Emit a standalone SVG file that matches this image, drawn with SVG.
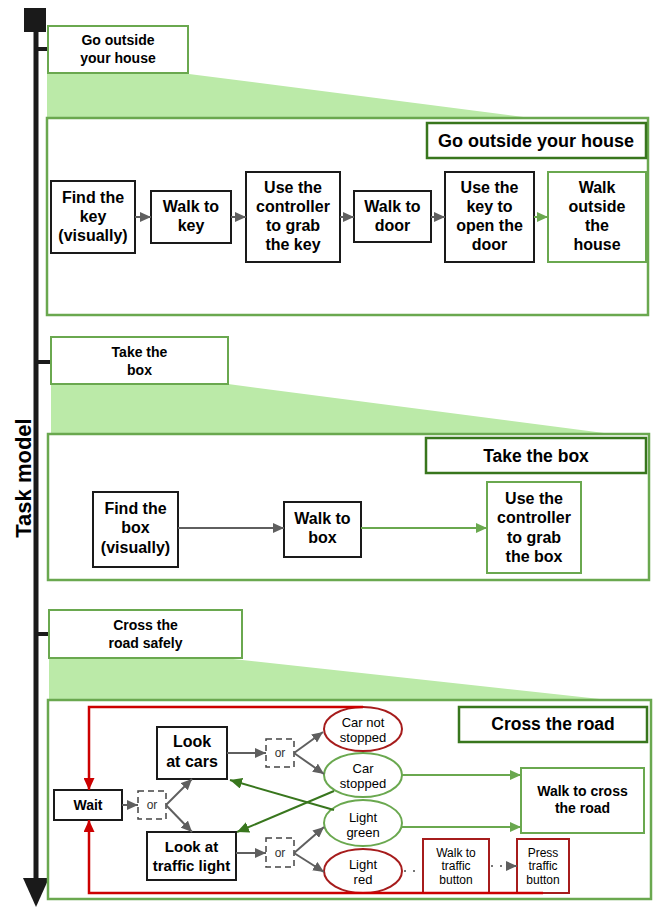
<svg xmlns="http://www.w3.org/2000/svg" width="654" height="907" viewBox="0 0 654 907">
<defs>
<style>
text{font-family:"Liberation Sans",Arial,sans-serif;text-anchor:middle;fill:#000}
.b{font-weight:bold}
.t15{font-size:16px;font-weight:bold}
.hdr{font-size:14px;font-weight:bold}
.ttl{font-size:17.5px;font-weight:bold}
.proc{fill:#fff;stroke:#1a1a1a;stroke-width:2}
.gproc{fill:#fff;stroke:#6aa84f;stroke-width:2}
.rproc{fill:#fff;stroke:#a61c1c;stroke-width:2}
.hbox{fill:#fff;stroke:#6aa84f;stroke-width:2}
.big{fill:#fff;stroke:#6aa84f;stroke-width:2.5}
.tbox{fill:#fff;stroke:#38761d;stroke-width:2.5}
.trap{fill:#bbeaa8;stroke:none}
.or{fill:#fff;stroke:#444;stroke-width:1.5;stroke-dasharray:6,4}
.ortx{font-size:12px;fill:#333}
.el{font-size:13px}
.gray{stroke:#5f5f5f;stroke-width:2;fill:none;marker-end:url(#ag)}
.green{stroke:#6aa84f;stroke-width:2;fill:none;marker-end:url(#agr)}
.dgreen{stroke:#38761d;stroke-width:2;fill:none;marker-end:url(#adg)}
.red{stroke:#cc0000;stroke-width:2.5;fill:none;marker-end:url(#ar)}
.dot{stroke:#777;stroke-width:2;fill:none;stroke-dasharray:2,7}
</style>
<marker id="ag" markerUnits="userSpaceOnUse" markerWidth="11" markerHeight="10" viewBox="0 0 11 10" refX="11" refY="5" orient="auto"><path d="M0,0 L11,5 L0,10 z" fill="#5f5f5f"/></marker>
<marker id="agr" markerUnits="userSpaceOnUse" markerWidth="11" markerHeight="10" viewBox="0 0 11 10" refX="11" refY="5" orient="auto"><path d="M0,0 L11,5 L0,10 z" fill="#6aa84f"/></marker>
<marker id="adg" markerUnits="userSpaceOnUse" markerWidth="12" markerHeight="11" viewBox="0 0 12 11" refX="12" refY="5.5" orient="auto"><path d="M0,0 L12,5.5 L0,11 z" fill="#38761d"/></marker>
<marker id="ar" markerUnits="userSpaceOnUse" markerWidth="12" markerHeight="11" viewBox="0 0 12 11" refX="12" refY="5.5" orient="auto"><path d="M0,0 L12,5.5 L0,11 z" fill="#cc0000"/></marker>
</defs>
<rect width="654" height="907" fill="#fff"/>

<!-- Axis -->
<g id="axis">
<rect x="24" y="8" width="22" height="24" fill="#1a1a1a"/>
<line x1="36" y1="30" x2="36" y2="880" stroke="#1a1a1a" stroke-width="5"/>
<polygon points="23,878 49,878 36,907" fill="#1a1a1a"/>
<rect x="36" y="47" width="13" height="4" fill="#1a1a1a"/>
<rect x="36" y="360" width="15" height="4" fill="#1a1a1a"/>
<rect x="36" y="632" width="13" height="4" fill="#1a1a1a"/>
<text transform="translate(31,478) rotate(-90)" class="b" style="font-size:22px">Task model</text>
</g>

<!-- Section 1 -->
<g id="sec1-header">
<polygon class="trap" points="47,74 189,74 531,118 47,118"/>
<rect class="hbox" x="48" y="26" width="140" height="47"/>
<text class="hdr" x="118" y="45">Go outside</text>
<text class="hdr" x="118" y="63">your house</text>
</g>
<g id="sec1-frame">
<rect class="big" x="47" y="118" width="601" height="197"/>
<rect class="tbox" x="427" y="123" width="219" height="35"/>
<text class="b" style="font-size:18px" x="536" y="147">Go outside your house</text>
</g>
<g id="n-findkey"><rect class="proc" x="51" y="181" width="84" height="72"/>
<text class="t15" x="93" y="203">Find the</text><text class="t15" x="93" y="222">key</text><text class="t15" x="93" y="241">(visually)</text></g>
<g id="n-walkkey"><rect class="proc" x="151" y="191" width="80" height="52"/>
<text class="t15" x="191" y="212">Walk to</text><text class="t15" x="191" y="231">key</text></g>
<g id="n-grabkey"><rect class="proc" x="246" y="172" width="94" height="90"/>
<text class="t15" x="293" y="193">Use the</text><text class="t15" x="293" y="212">controller</text><text class="t15" x="293" y="231">to grab</text><text class="t15" x="293" y="250">the key</text></g>
<g id="n-walkdoor"><rect class="proc" x="354" y="191" width="77" height="51"/>
<text class="t15" x="392.5" y="212">Walk to</text><text class="t15" x="392.5" y="231">door</text></g>
<g id="n-opendoor"><rect class="proc" x="445" y="172" width="89" height="90"/>
<text class="t15" x="489.5" y="193">Use the</text><text class="t15" x="489.5" y="212">key to</text><text class="t15" x="489.5" y="231">open the</text><text class="t15" x="489.5" y="250">door</text></g>
<g id="n-walkout"><rect class="gproc" x="548" y="172" width="98" height="90"/>
<text class="t15" x="597" y="193">Walk</text><text class="t15" x="597" y="212">outside</text><text class="t15" x="597" y="231">the</text><text class="t15" x="597" y="250">house</text></g>

<!-- Section 2 -->
<g id="sec2-header">
<polygon class="trap" points="51,384 228,384 604,433 51,433"/>
<rect class="hbox" x="51" y="337" width="177" height="47"/>
<text class="hdr" x="139.5" y="357">Take the</text>
<text class="hdr" x="139.5" y="375">box</text>
</g>
<g id="sec2-frame">
<rect class="big" x="48" y="434" width="601" height="146"/>
<rect class="tbox" x="426" y="438" width="220" height="35"/>
<text class="ttl" x="536" y="462">Take the box</text>
</g>
<g id="n-findbox"><rect class="proc" x="93" y="492" width="85" height="75"/>
<text class="t15" x="135.5" y="514">Find the</text><text class="t15" x="135.5" y="533">box</text><text class="t15" x="135.5" y="553">(visually)</text></g>
<g id="n-walkbox"><rect class="proc" x="284" y="502" width="77" height="55"/>
<text class="t15" x="322.5" y="524">Walk to</text><text class="t15" x="322.5" y="543">box</text></g>
<g id="n-grabbox"><rect class="gproc" x="487" y="482" width="94" height="91"/>
<text class="t15" x="534" y="504">Use the</text><text class="t15" x="534" y="523">controller</text><text class="t15" x="534" y="543">to grab</text><text class="t15" x="534" y="562">the box</text></g>

<!-- Section 3 -->
<g id="sec3-header">
<polygon class="trap" points="49,658 224,658 609,700 49,700"/>
<rect class="hbox" x="49" y="610" width="193" height="48"/>
<text class="hdr" x="145.5" y="630">Cross the</text>
<text class="hdr" x="145.5" y="648">road safely</text>
</g>
<g id="sec3-frame">
<rect class="big" x="48" y="700" width="603" height="199"/>
<rect class="tbox" x="459" y="707" width="188" height="35"/>
<text class="ttl" x="553" y="730">Cross the road</text>
</g>
<g id="n-wait"><rect class="proc" x="54" y="790" width="68" height="30"/>
<text class="b" style="font-size:14px" x="88" y="810">Wait</text></g>
<g id="n-or1"><rect class="or" x="138" y="791" width="28" height="28"/><text class="ortx" x="152" y="809">or</text></g>
<g id="n-lookcars"><rect class="proc" x="157" y="727" width="70" height="52"/>
<text class="b" style="font-size:16px" x="192" y="747">Look</text><text class="b" style="font-size:16px" x="192" y="767">at cars</text></g>
<g id="n-looklight"><rect class="proc" x="147" y="832" width="89" height="48"/>
<text class="b" style="font-size:15px" x="191.5" y="852">Look at</text><text class="b" style="font-size:15px" x="191.5" y="871">traffic light</text></g>
<g id="n-or2"><rect class="or" x="266" y="739" width="28" height="28"/><text class="ortx" x="280" y="757">or</text></g>
<g id="n-or3"><rect class="or" x="266" y="838" width="28" height="29"/><text class="ortx" x="280" y="857">or</text></g>
<g id="n-carnot"><ellipse cx="363" cy="729" rx="39" ry="22" fill="#fff" stroke="#a61c1c" stroke-width="2"/>
<text class="el" x="363" y="727">Car not</text><text class="el" x="363" y="742">stopped</text></g>
<g id="n-carstop"><ellipse cx="363" cy="775" rx="39" ry="22" fill="#fff" stroke="#6aa84f" stroke-width="2"/>
<text class="el" x="363" y="773">Car</text><text class="el" x="363" y="788">stopped</text></g>
<g id="n-lightgreen"><ellipse cx="363" cy="823" rx="39" ry="23" fill="#fff" stroke="#6aa84f" stroke-width="2"/>
<text class="el" x="363" y="822">Light</text><text class="el" x="363" y="837">green</text></g>
<g id="n-lightred"><ellipse cx="363" cy="871" rx="39" ry="22" fill="#fff" stroke="#a61c1c" stroke-width="2"/>
<text class="el" x="363" y="869">Light</text><text class="el" x="363" y="884">red</text></g>
<g id="n-walkcross"><rect class="gproc" x="521" y="768" width="123" height="65"/>
<text class="b" style="font-size:14px" x="582.5" y="796">Walk to cross</text><text class="b" style="font-size:14px" x="582.5" y="813">the road</text></g>
<g id="n-walkbutton"><rect class="rproc" x="423" y="839" width="66" height="54"/>
<text style="font-size:12px" x="456" y="857">Walk to</text><text style="font-size:12px" x="456" y="870">traffic</text><text style="font-size:12px" x="456" y="884">button</text></g>
<g id="n-press"><rect class="rproc" x="517" y="839" width="52" height="54"/>
<text style="font-size:12px" x="543" y="857">Press</text><text style="font-size:12px" x="543" y="870">traffic</text><text style="font-size:12px" x="543" y="884">button</text></g>

<!-- Connectors -->
<g id="connectors">
<line class="gray" x1="135" y1="217" x2="151" y2="217"/>
<line class="gray" x1="231" y1="217" x2="246" y2="217"/>
<line class="gray" x1="340" y1="217" x2="354" y2="217"/>
<line class="gray" x1="431" y1="217" x2="445" y2="217"/>
<line class="green" x1="534" y1="217" x2="548" y2="217"/>
<line class="gray" x1="178" y1="528" x2="284" y2="528"/>
<line class="green" x1="361" y1="528" x2="487" y2="528"/>
<line class="gray" x1="122" y1="805" x2="138" y2="805"/>
<line class="gray" x1="166" y1="805" x2="192" y2="779"/>
<line class="gray" x1="166" y1="805" x2="192" y2="832"/>
<line class="gray" x1="227" y1="753" x2="266" y2="753"/>
<line class="gray" x1="294" y1="753" x2="323" y2="732"/>
<line class="gray" x1="294" y1="753" x2="324" y2="774"/>
<line class="gray" x1="236" y1="853" x2="266" y2="853"/>
<line class="gray" x1="294" y1="853" x2="324" y2="827"/>
<line class="gray" x1="294" y1="853" x2="324" y2="872"/>
<line class="dgreen" x1="334" y1="810" x2="230" y2="780"/>
<line class="dgreen" x1="334" y1="791" x2="237" y2="832"/>
<line class="green" x1="402" y1="775" x2="521" y2="775"/>
<line class="green" x1="402" y1="827" x2="521" y2="827"/>
<line class="dot" x1="404" y1="871" x2="422" y2="871"/>
<line class="dot" x1="491" y1="866" x2="506" y2="866"/>
<line stroke="#5f5f5f" stroke-width="2" x1="506" y1="866" x2="517" y2="866" style="marker-end:url(#ag)"/>
<polyline class="red" points="363,707 89,707 89,790"/>
<polyline class="red" points="543,893 89,893 89,820"/>
</g>
</svg>
